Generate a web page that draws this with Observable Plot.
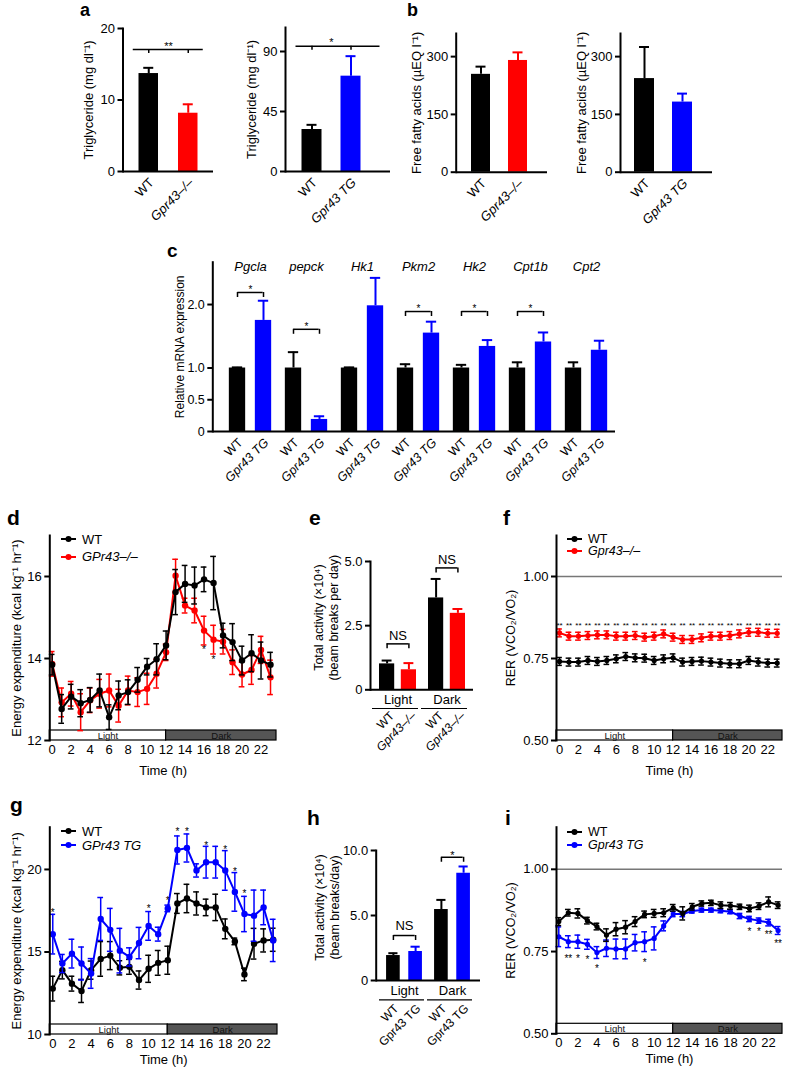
<!DOCTYPE html>
<html><head><meta charset="utf-8">
<script src="https://cdn.jsdelivr.net/npm/d3@7"></script>
<script src="https://cdn.jsdelivr.net/npm/@observablehq/plot@0.6"></script>
<style>
body{margin:0;background:#fff;}
#root{position:relative;width:788px;height:1070px;overflow:hidden;font-family:"Liberation Sans",Arial,Helvetica,sans-serif;color:#000;}
.letter{position:absolute;font-weight:bold;}
.leg{position:absolute;display:flex;align-items:center;height:16px;white-space:nowrap;}
</style></head><body><div id="root"></div>
<script>
// ---------------- DATA ----------------
const aKoLabels = ["WT", "Gpr43–/–"];
const aTgLabels = ["WT", "Gpr43 TG"];
// a: triglyceride
const aKoMean = [13.7, 8.15], aKoErr = [0.8, 1.25];
const aTgMean = [31.5, 71.5], aTgErr = [3.5, 15];
// b: free fatty acids
const bKoMean = [254, 290], bKoErr = [20, 21];
const bTgMean = [243, 182], bTgErr = [82, 22];
// c: relative mRNA expression
const genes = ["Pgcla", "pepck", "Hk1", "Pkm2", "Hk2", "Cpt1b", "Cpt2"];
const cWT = [1, 1, 1, 1, 1, 1, 1];
const cWTerr = [0.01, 0.25, 0.01, 0.06, 0.05, 0.09, 0.09];
const cTG = [1.75, 0.19, 1.98, 1.55, 1.34, 1.41, 1.28];
const cTGerr = [0.31, 0.05, 0.44, 0.18, 0.10, 0.15, 0.15];
const cBrackets = [
  {g: "Pgcla", y: 2.19, ty: 2.27, t: "*"},
  {g: "pepck", y: 1.61, ty: 1.685, t: "*"},
  {g: "Pkm2", y: 1.89, ty: 1.98, t: "*"},
  {g: "Hk2", y: 1.89, ty: 1.98, t: "*"},
  {g: "Cpt1b", y: 1.89, ty: 1.98, t: "*"}
];
// time axis
const hours = [0,1,2,3,4,5,6,7,8,9,10,11,12,13,14,15,16,17,18,19,20,21,22,23];
const hourTicks = [0,2,4,6,8,10,12,14,16,18,20,22];
const phases = [{label: "Light", start: -1, end: 12}, {label: "Dark", start: 12, end: 24}];
// d: energy expenditure, KO
const dWT = [13.85,12.77,13.07,12.91,12.99,13.22,12.57,13.10,13.18,13.48,13.80,13.98,14.32,15.62,15.82,15.78,15.93,15.84,14.56,14.40,13.95,14.13,13.95,13.85];
const dWTerr = [0.25,0.35,0.3,0.33,0.3,0.4,0.3,0.35,0.3,0.3,0.2,0.38,0.35,0.55,0.45,0.45,0.3,0.65,0.3,0.45,0.35,0.45,0.45,0.3];
const dKO = [13.87,12.93,13.14,12.69,12.98,13.14,13.22,12.85,13.22,13.18,13.26,13.63,14.15,16.02,15.29,15.17,14.68,14.46,14.41,13.91,13.61,13.72,14.21,13.54];
const dKOerr = [0.3,0.35,0.3,0.45,0.3,0.35,0.4,0.4,0.35,0.35,0.38,0.35,0.2,0.4,0.18,0.3,0.35,0.35,0.3,0.3,0.3,0.35,0.33,0.42];
const dStars = [{h: 16, y: 14.27, t: "*"}, {h: 17, y: 14.03, t: "*"}];
// e: total activity, KO
const periodsCat = ["Light", "Dark"];
const eWT = [1.01, 3.58], eWTerr = [0.13, 0.74];
const eKO = [0.78, 2.98], eKOerr = [0.26, 0.17];
const eBrackets = [{g: "Light", y: 1.79, ty: 2.10, t: "NS"}, {g: "Dark", y: 4.75, ty: 5.06, t: "NS"}];
// f: RER, KO
const fWT = [0.741,0.739,0.739,0.744,0.741,0.744,0.749,0.756,0.752,0.751,0.744,0.749,0.752,0.739,0.741,0.742,0.739,0.736,0.734,0.734,0.744,0.739,0.736,0.736];
const fWTerr = hours.map(() => 0.012);
const fKO = [0.828,0.818,0.818,0.820,0.822,0.822,0.818,0.818,0.820,0.815,0.818,0.825,0.815,0.808,0.808,0.813,0.818,0.818,0.820,0.825,0.830,0.830,0.827,0.827];
const fKOerr = hours.map(() => 0.012);
const fStars = hours.map(h => ({h, y: 0.857, t: "**"}));
// g: energy expenditure, TG
const gWT = [12.78,13.90,13.08,12.64,13.90,14.58,14.78,14.04,14.10,13.30,13.98,14.34,14.50,17.94,18.24,17.94,17.70,17.70,16.40,15.64,13.64,15.50,15.70,15.74];
const gWTerr = [0.75,0.53,0.45,0.7,0.55,1.05,0.85,0.43,0.45,0.55,0.82,0.75,0.85,0.6,0.86,0.7,0.5,0.8,0.6,0.2,0.38,0.93,0.7,0.7];
const gTG = [16.08,14.30,14.90,14.30,13.70,17.00,16.34,15.08,14.70,15.54,16.58,16.08,17.64,21.18,21.30,19.94,20.44,20.44,19.94,18.64,17.30,17.20,17.70,15.70];
const gTGerr = [1.2,0.55,0.87,1.0,0.9,1.3,1.3,1.35,0.55,0.95,0.87,0.42,0.2,0.85,0.85,0.4,0.96,0.96,1.2,1.17,1.07,1.55,1.05,1.28];
const gStars = [{h:0,y:17.54,t:"*"},{h:10,y:17.78,t:"*"},{h:12,y:18.28,t:"*"},{h:13,y:22.44,t:"*"},{h:14,y:22.44,t:"*"},{h:16,y:21.58,t:"*"},{h:18,y:21.34,t:"*"},{h:19,y:20.04,t:"*"},{h:20,y:18.68,t:"*"}];
// h: total activity, TG
const hWT = [1.92, 5.46], hWTerr = [0.18, 0.74];
const hTG = [2.23, 8.25], hTGerr = [0.37, 0.52];
const hBrackets = [{g: "Light", y: 3.46, ty: 4.18, t: "NS"}, {g: "Dark", y: 9.48, ty: 9.87, t: "*"}];
// i: RER, TG
const iWT = [0.841,0.868,0.866,0.844,0.826,0.800,0.818,0.824,0.841,0.863,0.866,0.868,0.883,0.866,0.886,0.896,0.898,0.891,0.889,0.886,0.881,0.888,0.901,0.891];
const iWTerr = [0.012,0.01,0.014,0.01,0.01,0.019,0.02,0.02,0.015,0.01,0.012,0.012,0.01,0.02,0.01,0.008,0.008,0.01,0.01,0.008,0.01,0.01,0.015,0.01];
const iTG = [0.795,0.780,0.780,0.772,0.747,0.760,0.758,0.758,0.777,0.780,0.790,0.828,0.864,0.864,0.873,0.876,0.876,0.874,0.871,0.858,0.849,0.844,0.838,0.814];
const iTGerr = [0.03,0.018,0.02,0.015,0.018,0.025,0.03,0.03,0.025,0.03,0.035,0.015,0.008,0.008,0.006,0.006,0.006,0.006,0.006,0.008,0.008,0.008,0.01,0.012];
const iStars = [{h:1,y:0.735,t:"**"},{h:2,y:0.737,t:"*"},{h:3,y:0.732,t:"*"},{h:4,y:0.705,t:"*"},{h:9,y:0.725,t:"*"},{h:20,y:0.819,t:"*"},{h:21,y:0.819,t:"*"},{h:22,y:0.81,t:"**"},{h:23,y:0.78,t:"**"}];

const BLACK = "#000", RED = "#ff0000", BLUE = "#0000ff";
const FONT = '"Liberation Sans", Arial, Helvetica, sans-serif';
const root = document.getElementById("root");

// ---------------- HELPERS ----------------
function mkPlot(box, frame, opts) {
  const [sx0, sy0, sx1, sy1] = box, [fx0, fy0, fx1, fy1] = frame;
  const p = Plot.plot({
    width: sx1 - sx0, height: sy1 - sy0,
    marginLeft: fx0 - sx0, marginRight: sx1 - fx1, marginTop: fy0 - sy0, marginBottom: sy1 - fy1,
    style: {fontFamily: FONT, fontSize: "13px", background: "transparent", overflow: "visible", color: "#000"},
    ...opts
  });
  p.style.position = "absolute"; p.style.left = sx0 + "px"; p.style.top = sy0 + "px";
  root.append(p);
  return p;
}

function yTitleMark(title, dx, dy, size) {
  return Plot.text([title], {text: d => d, frameAnchor: "left", textAnchor: "middle", lineAnchor: "middle",
    dx, dy, rotate: -90, fontSize: size, lineHeight: 1.2});
}

function barPanel(o) {
  const sx0 = o.box[0];
  const [fx0, fy0, fx1, fy1] = o.frame;
  const px2u = (o.yDomain[1] - o.yDomain[0]) / (fy1 - fy0);
  const bw = (o.groupRange[1] - o.groupRange[0]) / o.groups.length;
  const marks = [];
  o.series.forEach(s => {
    const rows = o.groups.map((g, i) => ({g, v: s.values[i], e: s.errs[i]}));
    marks.push(Plot.ruleX(rows, {x: "g", y1: "v", y2: d => d.v + d.e, dx: s.off, stroke: s.color, strokeWidth: 2}));
    marks.push(Plot.tickY(rows, {x: "g", y: d => d.v + d.e, stroke: s.color, strokeWidth: 2,
      insetLeft: bw / 2 + s.off - o.capW / 2, insetRight: bw / 2 - s.off - o.capW / 2}));
    marks.push(Plot.barY(rows, {x: "g", y: "v", fill: s.color,
      insetLeft: bw / 2 + s.off - o.barW / 2, insetRight: bw / 2 - s.off - o.barW / 2}));
    marks.push(Plot.text(rows, {x: "g", text: () => s.label, frameAnchor: "bottom", lineAnchor: "middle", dx: s.off + o.labDx, dy: o.labDy,
      rotate: -45, textAnchor: "end", fontStyle: s.italic ? "italic" : "normal", fontSize: o.labSize}));
  });
  if (o.brackets) {
    const off0 = o.series[0].off, off1 = o.series[1].off, drop = o.dropPx * px2u;
    const br = o.brackets;
    marks.push(Plot.ruleY(br, {x1: "g", x2: "g", y: "y", insetLeft: bw / 2 + off0, insetRight: bw / 2 - off1, strokeWidth: 1.5}));
    marks.push(Plot.ruleX(br, {x: "g", y1: "y", y2: d => d.y - drop, dx: off0, strokeWidth: 1.5}));
    marks.push(Plot.ruleX(br, {x: "g", y1: "y", y2: d => d.y - drop, dx: off1, strokeWidth: 1.5}));
    marks.push(Plot.text(br.filter(d => d.t.includes("*")), {x: "g", y: "ty", text: "t", dx: (off0 + off1) / 2, dy: 0.26 * o.starSize, fontSize: o.starSize}));
    marks.push(Plot.text(br.filter(d => !d.t.includes("*")), {x: "g", y: "ty", text: "t", dx: (off0 + off1) / 2, fontSize: o.nsSize || 13}));
  }
  if (o.geneLabels) {
    marks.push(Plot.text(o.groups, {x: d => d, text: d => d, frameAnchor: "top", lineAnchor: "middle", dy: o.geneDy, fontStyle: "italic", fontSize: 13}));
  }
  if (o.catLabels) {
    marks.push(Plot.text(o.groups, {x: d => d, text: d => d, frameAnchor: "bottom", lineAnchor: "middle", dy: o.catDy, fontSize: 13}));
    marks.push(Plot.ruleY(o.groups, {x1: d => d, x2: d => d, y: () => o.yDomain[0], dy: o.ulDy, insetLeft: -1, insetRight: 4, strokeWidth: 1.2}));
  }
  marks.push(Plot.ruleY([o.yDomain[0]], {strokeWidth: 2}));
  marks.push(Plot.frame({anchor: "left", strokeWidth: 2}));
  marks.push(Plot.axisY({ticks: o.yTicks, tickFormat: o.yFmt, tickSize: 5, tickPadding: 3, strokeWidth: 2, fontSize: o.tickSize || 13, label: null}));
  marks.push(yTitleMark(o.yTitle, o.titleX - fx0, o.titleDy || 0, o.titleSize));
  return mkPlot(o.box, o.frame, {
    x: {type: "band", domain: o.groups, range: [o.groupRange[0] - sx0, o.groupRange[1] - sx0], padding: 0, axis: null},
    y: {domain: o.yDomain},
    marks
  });
}

function linePanel(o) {
  const [fx0, fy0, fx1, fy1] = o.frame;
  const fh = fy1 - fy0;
  const [x0, x1] = o.xDomain;
  const per = phases.map(p => ({label: p.label, a: Math.max(p.start, x0), b: Math.min(p.end, x1)}));
  const cap = 0.3;
  const marks = [
    Plot.rect(per.filter(p => p.label === "Light"), {x1: "a", x2: "b", fill: "#fff", stroke: "#000", strokeWidth: 1.2, insetTop: fh - 10}),
    Plot.rect(per.filter(p => p.label === "Dark"), {x1: "a", x2: "b", fill: "#555", stroke: "#000", strokeWidth: 1.2, insetTop: fh - 10}),
    Plot.text(per, {x: d => (d.a + d.b) / 2, text: "label", frameAnchor: "bottom", lineAnchor: "middle", dy: -5, fontSize: 9.5, fill: "#111"})
  ];
  if (o.refLine != null) marks.push(Plot.ruleY([o.refLine], {stroke: "#777", strokeWidth: 1.5}));
  o.series.forEach(s => {
    const rows = hours.map((h, i) => ({h, v: s.values[i], e: s.errs[i]}));
    marks.push(Plot.ruleX(rows, {x: "h", y1: d => d.v - d.e, y2: d => d.v + d.e, stroke: s.color, strokeWidth: 1.5}));
    marks.push(Plot.ruleY(rows, {y: d => d.v + d.e, x1: d => d.h - cap, x2: d => d.h + cap, stroke: s.color, strokeWidth: 1.5}));
    marks.push(Plot.ruleY(rows, {y: d => d.v - d.e, x1: d => d.h - cap, x2: d => d.h + cap, stroke: s.color, strokeWidth: 1.5}));
    marks.push(Plot.line(rows, {x: "h", y: "v", stroke: s.color, strokeWidth: 2}));
    marks.push(Plot.dot(rows, {x: "h", y: "v", fill: s.color, r: o.dotR || 3.2}));
  });
  if (o.stars) marks.push(Plot.text(o.stars, {x: "h", y: "y", text: "t", fontSize: o.starSize, dy: 0.26 * o.starSize}));
  marks.push(Plot.frame({anchor: "left", strokeWidth: 2}));
  marks.push(Plot.axisY({ticks: o.yTicks, tickFormat: o.yFmt, tickSize: 5, tickPadding: 3, strokeWidth: 2, fontSize: 13, label: null}));
  marks.push(Plot.axisX({ticks: hourTicks, tickSize: 0, tickPadding: 4, fontSize: 13, label: null}));
  marks.push(Plot.text(["Time (h)"], {text: d => d, frameAnchor: "bottom", lineAnchor: "middle", dy: o.timeDy || 30, fontSize: 13}));
  marks.push(yTitleMark(o.yTitle, o.titleX - fx0, 0, o.titleSize));
  mkPlot(o.box, o.frame, {x: {domain: o.xDomain}, y: {domain: o.yDomain}, marks});
  // legend
  o.legend.forEach((it, i) => {
    const div = document.createElement("div");
    div.className = "leg";
    div.style.left = o.legX + "px";
    div.style.top = (o.legY[i] - 8) + "px";
    div.style.fontSize = o.legSize + "px";
    div.style.fontStyle = it.italic ? "italic" : "normal";
    div.innerHTML = `<svg width="15" height="8" style="margin-right:6px;overflow:visible"><line x1="0" x2="15" y1="4" y2="4" stroke="${it.color}" stroke-width="2"/><circle cx="7.5" cy="4" r="3" fill="${it.color}"/></svg><span>${it.label}</span>`;
    root.append(div);
  });
}

const f1 = d => d === 0 ? "0" : d.toFixed(1);
const f2 = d3.format(".2f");

// ---------------- PANELS ----------------
// a (left)
barPanel({box: [60, 0, 222, 235], frame: [122.5, 28, 213, 171], groups: ["serum"], groupRange: [138.25, 198.25],
  series: [{label: aKoLabels[0], color: BLACK, values: [aKoMean[0]], errs: [aKoErr[0]], off: -19.75},
           {label: aKoLabels[1], color: RED, values: [aKoMean[1]], errs: [aKoErr[1]], off: 19.75, italic: true}],
  barW: 19.5, capW: 10, yDomain: [0, 20], yTicks: [0, 10, 20], yFmt: d => d, yTitle: "Triglyceride (mg dl⁻¹)",
  titleX: 87, titleSize: 13, labDx: 3, labDy: 9, labSize: 13,
  brackets: [{g: "serum", y: 17.06, ty: 17.9, t: "**"}], dropPx: 4, starSize: 11});
// a (right)
barPanel({box: [225, 0, 395, 235], frame: [285, 27, 390, 171], groups: ["serum"], groupRange: [300.5, 360.5],
  series: [{label: aTgLabels[0], color: BLACK, values: [aTgMean[0]], errs: [aTgErr[0]], off: -19.5},
           {label: aTgLabels[1], color: BLUE, values: [aTgMean[1]], errs: [aTgErr[1]], off: 19.5, italic: true}],
  barW: 20, capW: 10, yDomain: [0, 108], yTicks: [0, 45, 90], yFmt: d => d, yTitle: "Triglyceride (mg dl⁻¹)",
  titleX: 250, titleSize: 13, labDx: 3, labDy: 9, labSize: 13,
  brackets: [{g: "serum", y: 94, ty: 99, t: "*"}], dropPx: 4, starSize: 11});
// b (left)
barPanel({box: [395, 0, 555, 235], frame: [455.7, 33, 547, 171.7], groups: ["serum"], groupRange: [469, 529],
  series: [{label: aKoLabels[0], color: BLACK, values: [bKoMean[0]], errs: [bKoErr[0]], off: -18.5},
           {label: aKoLabels[1], color: RED, values: [bKoMean[1]], errs: [bKoErr[1]], off: 18.5, italic: true}],
  barW: 19, capW: 10, yDomain: [0, 360], yTicks: [0, 150, 300], yFmt: d => d, yTitle: "Free fatty acids (µEQ l⁻¹)",
  titleX: 415, titleSize: 13, labDx: 3, labDy: 9, labSize: 13});
// b (right)
barPanel({box: [558, 0, 720, 235], frame: [620, 33, 712, 171.7], groups: ["serum"], groupRange: [633, 693],
  series: [{label: aTgLabels[0], color: BLACK, values: [bTgMean[0]], errs: [bTgErr[0]], off: -19},
           {label: aTgLabels[1], color: BLUE, values: [bTgMean[1]], errs: [bTgErr[1]], off: 19, italic: true}],
  barW: 20, capW: 10, yDomain: [0, 360], yTicks: [0, 150, 300], yFmt: d => d, yTitle: "Free fatty acids (µEQ l⁻¹)",
  titleX: 580, titleSize: 13, labDx: 3, labDy: 9, labSize: 13});
// c
barPanel({box: [150, 255, 625, 480], frame: [212.3, 261.7, 615, 431], groups: genes, groupRange: [219.17, 615.86],
  series: [{label: "WT", color: BLACK, values: cWT, errs: cWTerr, off: -13},
           {label: "Gpr43 TG", color: BLUE, values: cTG, errs: cTGerr, off: 13, italic: true}],
  barW: 17, capW: 11, yDomain: [0, 2.667], yTicks: [0, 0.5, 1, 2], yFmt: f1, yTitle: "Relative mRNA expression",
  titleX: 179, titleSize: 12, tickSize: 12.5, labDx: 3, labDy: 9, labSize: 12.5,
  brackets: cBrackets, dropPx: 5, starSize: 10, geneLabels: true, geneDy: 4.5});
// d
linePanel({box: [0, 520, 288, 790], frame: [49.3, 535, 276, 740], xDomain: [-0.25, 23.63], yDomain: [12, 17],
  yTicks: [12, 14, 16], yFmt: d => d, yTitle: "Energy expenditure (kcal kg⁻¹ hr⁻¹)", titleX: 15, titleSize: 13,
  series: [{color: RED, values: dKO, errs: dKOerr}, {color: BLACK, values: dWT, errs: dWTerr}],
  stars: dStars, starSize: 10,
  legend: [{label: "WT", color: BLACK}, {label: "GPr43–/–", color: RED, italic: true}], legX: 61, legY: [539, 556.7], legSize: 13});
// e
barPanel({box: [295, 510, 482, 790], frame: [370, 561, 473, 689.3], groups: periodsCat, groupRange: [372.85, 471.05],
  series: [{label: "WT", color: BLACK, values: eWT, errs: eWTerr, off: -10.9},
           {label: "Gpr43–/–", color: RED, values: eKO, errs: eKOerr, off: 10.9, italic: true}],
  barW: 15.3, capW: 10, yDomain: [0, 5], yTicks: [0, 2.5, 5], yFmt: f1, yTitle: "Total activity (×10⁴)\n(beam breaks per day)",
  titleX: 325.5, titleDy: -8, titleSize: 12.5, labDx: 5, labDy: 24, labSize: 12,
  brackets: eBrackets, dropPx: 5, starSize: 11, nsSize: 13, catLabels: true, catDy: 10, ulDy: 18.7});
// f
linePanel({box: [488, 520, 788, 790], frame: [556, 535, 782, 740], xDomain: [-0.32, 23.56], yDomain: [0.5, 1.125],
  yTicks: [0.5, 0.75, 1], yFmt: f2, yTitle: "RER (VCO₂/VO₂)", titleX: 510, titleSize: 12.5, refLine: 1,
  series: [{color: RED, values: fKO, errs: fKOerr}, {color: BLACK, values: fWT, errs: fWTerr}], dotR: 2.6,
  stars: fStars, starSize: 8,
  legend: [{label: "WT", color: BLACK}, {label: "Gpr43–/–", color: RED, italic: true}], legX: 567, legY: [539, 551], legSize: 12.5});
// g
linePanel({box: [0, 812, 288, 1070], frame: [49.3, 826.7, 277, 1034], xDomain: [-0.31, 23.45], yDomain: [10, 22.56],
  yTicks: [10, 15, 20], yFmt: d => d, yTitle: "Energy expenditure (kcal kg⁻¹ hr⁻¹)", titleX: 15, titleSize: 13,
  series: [{color: BLACK, values: gWT, errs: gWTerr}, {color: BLUE, values: gTG, errs: gTGerr}],
  stars: gStars, starSize: 10, timeDy: 25,
  legend: [{label: "WT", color: BLACK}, {label: "GPr43 TG", color: BLUE, italic: true}], legX: 61, legY: [831, 845], legSize: 13});
// h
barPanel({box: [295, 805, 485, 1070], frame: [375.7, 850, 480, 980], groups: periodsCat, groupRange: [379.5, 477.2],
  series: [{label: "WT", color: BLACK, values: hWT, errs: hWTerr, off: -11.1},
           {label: "Gpr43 TG", color: BLUE, values: hTG, errs: hTGerr, off: 11.1}],
  barW: 14.5, capW: 10, yDomain: [0, 10], yTicks: [0, 5, 10], yFmt: f1, yTitle: "Total activity (×10⁴)\n(beam breaks/day)",
  titleX: 326, titleDy: -8, titleSize: 12.5, labDx: 3, labDy: 26, labSize: 12,
  brackets: hBrackets, dropPx: 5, starSize: 11, nsSize: 13, catLabels: true, catDy: 10, ulDy: 19.3});
// i
linePanel({box: [488, 812, 788, 1070], frame: [556, 826.7, 782, 1033.3], xDomain: [-0.24, 23.46], yDomain: [0.5, 1.128],
  yTicks: [0.5, 0.75, 1], yFmt: f2, yTitle: "RER (VCO₂/VO₂)", titleX: 510, titleSize: 12.5, refLine: 1,
  series: [{color: BLUE, values: iTG, errs: iTGerr}, {color: BLACK, values: iWT, errs: iWTerr}], dotR: 2.6,
  stars: iStars, starSize: 10, timeDy: 25,
  legend: [{label: "WT", color: BLACK}, {label: "Gpr43 TG", color: BLUE, italic: true}], legX: 567, legY: [831.7, 845], legSize: 12.5});

// panel letters
const letters = [
  {t: "a", x: 80, base: 16, fs: 18}, {t: "b", x: 407, base: 16, fs: 18}, {t: "c", x: 167, base: 256.7, fs: 19},
  {t: "d", x: 7, base: 525, fs: 21}, {t: "e", x: 309, base: 525, fs: 21}, {t: "f", x: 503, base: 525, fs: 21},
  {t: "g", x: 10, base: 812, fs: 21}, {t: "h", x: 307, base: 825, fs: 21}, {t: "i", x: 505, base: 825, fs: 21}
];
letters.forEach(l => {
  const d = document.createElement("div");
  d.className = "letter";
  d.textContent = l.t;
  d.style.fontSize = l.fs + "px";
  d.style.lineHeight = l.fs + "px";
  d.style.left = l.x + "px";
  d.style.top = (l.base - 0.8465 * l.fs) + "px";
  root.append(d);
});
</script></body></html>
